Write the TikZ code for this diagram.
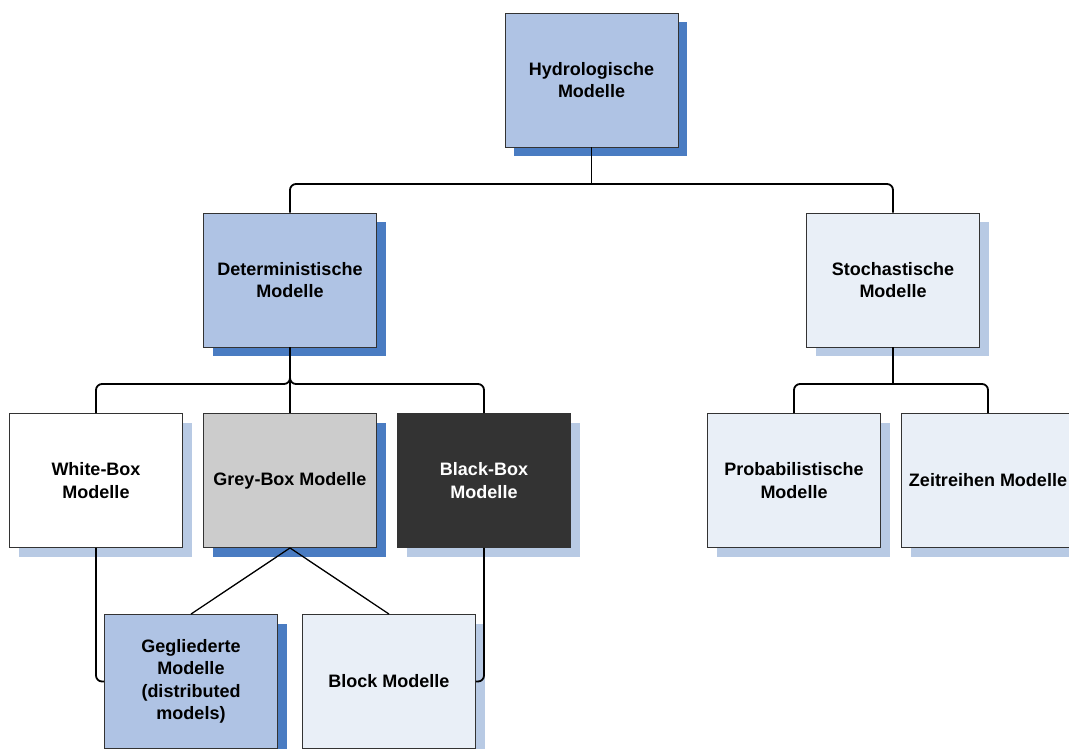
\documentclass[tikz,border=0pt]{standalone}
\usepackage{fontspec}
\setmainfont{Liberation Sans}
\usepackage{tikz}
\usetikzlibrary{shadows}
\definecolor{blueA}{RGB}{175,195,228}
\definecolor{blueD}{RGB}{74,124,194}
\definecolor{paleF}{RGB}{233,239,247}
\definecolor{paleS}{RGB}{184,202,228}
\definecolor{greyF}{RGB}{204,204,204}
\definecolor{darkF}{RGB}{51,51,51}

\begin{document}
\begin{tikzpicture}[x=1pt,y=-1pt,
    box/.style={draw=darkF, line width=0.9pt, minimum width=173pt, minimum height=134pt,
                inner sep=0pt, align=center, font=\fontsize{18}{22.5}\selectfont\bfseries},
    darkshadow/.style={drop shadow={shadow xshift=9pt, shadow yshift=-9pt, fill=blueD, opacity=1}},
    paleshadow/.style={drop shadow={shadow xshift=9pt, shadow yshift=-9pt, fill=paleS, opacity=1}},
    conn/.style={black, line width=1.8pt, rounded corners=6pt},
    diag/.style={black, line width=1.3pt}]
     \useasboundingbox (0,0) rectangle (1069,749);

     \node[box, fill=blueA, darkshadow] (hydro) at (591.5, 80) {Hydrologische\\Modelle};
     \node[box, fill=blueA, darkshadow] (det) at (290, 280) {Deterministische\\Modelle};
     \node[box, fill=paleF, paleshadow] (stoch) at (893, 280) {Stochastische\\Modelle};

     \node[box, fill=white, paleshadow] (white) at (96, 480.5) {White-Box\\Modelle};
     \node[box, fill=greyF, darkshadow] (grey) at (290, 480.5) {Grey-Box Modelle};
     \node[box, fill=darkF, paleshadow, text=white] (black) at (484, 480.5) {Black-Box\\Modelle};
     \node[box, fill=paleF, paleshadow] (prob) at (794, 480.5) {Probabilistische\\Modelle};
     \node[box, fill=paleF, paleshadow] (zeit) at (988, 480.5) {Zeitreihen Modelle};

     \node[box, fill=blueA, darkshadow] (geg) at (191, 681.5) {Gegliederte\\Modelle\\(distributed\\models)};
     \node[box, fill=paleF, paleshadow] (block) at (389, 681.5) {Block Modelle};

     \coordinate (bus1) at (591.5, 184);
     \coordinate (bus2) at (290, 384);
     \coordinate (bus3) at (893, 384);

     \draw[conn] (det.north) |- (bus1) -| (stoch.north);
     \draw[conn] (hydro.south) -- (bus1);

     \draw[conn] (det.south) -- (bus2) -| (white.north);
     \draw[conn] (det.south) -- (bus2) -| (black.north);
     \draw[conn] (det.south) -- (grey.north);

     \draw[conn] (prob.north) |- (bus3) -| (zeit.north);
     \draw[conn] (stoch.south) -- (bus3);

     \draw[diag] (grey.south) -- (geg.north);
     \draw[diag] (grey.south) -- (block.north);
     \draw[conn] (white.south) |- (geg.west);
     \draw[conn] (black.south) |- (block.east);
\end{tikzpicture}
\end{document}
